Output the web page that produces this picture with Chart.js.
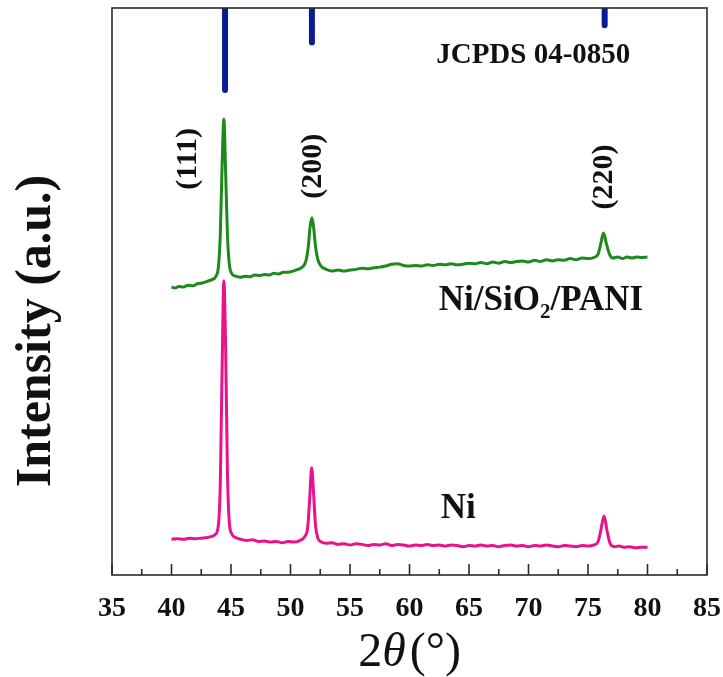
<!DOCTYPE html>
<html>
<head>
<meta charset="utf-8">
<script src="https://cdn.jsdelivr.net/npm/chart.js@4/dist/chart.umd.min.js"></script>
<style>
  html, body { margin: 0; padding: 0; background: #fff; }
  #wrap { width: 723px; height: 677px; position: relative; }
</style>
</head>
<body>
<div id="wrap"><canvas id="xrd"></canvas></div>
<script>
// XRD patterns, 2θ in degrees, intensity in a.u. (curves offset as in the figure)
const niTheta = [40.0, 40.5, 41.0, 41.5, 42.0, 42.5, 43.0, 43.4, 43.7, 43.95, 44.1, 44.25, 44.4, 44.55, 44.7, 44.85, 45.05, 45.4, 45.8,
    46.3, 46.8, 47.3, 47.8, 48.3, 48.8, 49.3, 49.8, 50.3, 50.8, 51.2, 51.45, 51.6, 51.78, 51.95, 52.1, 52.3, 52.6,
    53.0, 53.5, 54.0, 54.5, 55.0, 55.5, 56.0, 56.5, 57.0, 57.5, 58.0, 58.5, 59.0, 59.5, 60.0, 60.5, 61.0, 61.5,
    62.0, 62.5, 63.0, 63.5, 64.0, 64.5, 65.0, 65.5, 66.0, 66.5, 67.0, 67.5, 68.0, 68.5, 69.0, 69.5, 70.0, 70.5,
    71.0, 71.5, 72.0, 72.5, 73.0, 73.5, 74.0, 74.5, 75.0, 75.5, 75.85, 76.05, 76.35, 76.6, 76.85, 77.2, 77.6,
    78.0, 78.5, 79.0, 79.5, 80.0];
const niInt = [6.3, 6.4, 6.3, 6.5, 6.4, 6.5, 6.6, 6.8, 7.2, 9.0, 16, 36, 51.9, 40, 18, 9.5, 7.3, 6.6, 6.3,
    6.1, 6.2, 5.9, 6.0, 5.8, 5.9, 5.7, 5.9, 5.8, 6.1, 6.8, 8.5, 13, 18.9, 14, 8.8, 6.5, 5.8,
    5.6, 5.7, 5.4, 5.5, 5.3, 5.5, 5.4, 5.2, 5.4, 5.3, 5.5, 5.2, 5.4, 5.3, 5.1, 5.3, 5.2, 5.4,
    5.2, 5.3, 5.1, 5.3, 5.2, 5.0, 5.2, 5.1, 5.3, 5.1, 5.2, 5.0, 5.2, 5.3, 5.1, 5.2, 5.0, 5.2,
    5.1, 5.3, 5.1, 5.0, 5.2, 5.1, 5.0, 5.2, 5.1, 5.3, 5.9, 7.6, 10.4, 7.8, 5.6, 5.0, 5.1,
    4.9, 5.0, 4.8, 4.9, 4.9];

const compTheta = [40.0, 40.3, 40.6, 41.0, 41.4, 41.8, 42.2, 42.6, 43.0, 43.4, 43.7, 43.95, 44.1, 44.25, 44.4, 44.55, 44.7, 44.85,
    45.05, 45.4, 45.8, 46.2, 46.6, 47.0, 47.4, 47.8, 48.2, 48.6, 49.0, 49.4, 49.8, 50.2, 50.6, 51.0, 51.3, 51.5,
    51.65, 51.8, 51.95, 52.1, 52.3, 52.6, 53.0, 53.5, 54.0, 54.5, 55.0, 55.5, 56.0, 56.5, 57.0, 57.5, 58.0, 58.5,
    59.0, 59.5, 60.0, 60.5, 61.0, 61.5, 62.0, 62.5, 63.0, 63.5, 64.0, 64.5, 65.0, 65.5, 66.0, 66.5, 67.0, 67.5,
    68.0, 68.5, 69.0, 69.5, 70.0, 70.5, 71.0, 71.5, 72.0, 72.5, 73.0, 73.5, 74.0, 74.5, 75.0, 75.5, 75.85, 76.05,
    76.3, 76.55, 76.8, 77.1, 77.5, 77.9, 78.3, 78.7, 79.1, 79.5, 80.0];
const compInt = [50.8, 50.6, 50.9, 50.8, 51.1, 51.0, 51.4, 51.5, 51.8, 52.1, 52.6, 54.5, 60, 72, 80.4, 71, 60, 55,
    53.2, 52.7, 52.5, 52.7, 52.6, 52.9, 52.8, 53.0, 52.9, 53.2, 53.1, 53.4, 53.4, 53.6, 53.9, 54.3, 55.4, 58,
    61.5, 63.0, 61.2, 58, 55.6, 54.4, 53.9, 53.6, 53.8, 53.6, 53.8, 53.9, 54.1, 54.0, 54.2, 54.3, 54.5, 54.8,
    54.9, 54.6, 54.5, 54.6, 54.5, 54.7, 54.6, 54.8, 54.7, 54.9, 54.7, 54.8, 55.0, 54.9, 55.1, 54.9, 55.2, 55.0,
    55.3, 55.1, 55.3, 55.4, 55.2, 55.5, 55.3, 55.6, 55.4, 55.6, 55.5, 55.8, 55.6, 55.9, 55.8, 56.0, 56.6, 58.2,
    60.3, 58.4, 56.6, 55.9, 56.1, 55.8, 56.1, 55.9, 56.1, 56.0, 56.1];

// JCPDS 04-0850 (Ni) standard lines: position and relative intensity
const refTheta = [44.5, 51.8, 76.4];
const refInt = [100, 42, 21];
const refHkl = ['(111)', '(200)', '(220)'];

const serif = "'Liberation Serif', 'Times New Roman', serif";

function toPoints(xs, ys) {
    return xs.map((x, i) => ({ x: x, y: ys[i] }));
}

// stick pattern: one vertical segment per line, broken by null points
const refPoints = [];
refTheta.forEach((t, i) => {
    refPoints.push({ x: t, y: 0 }, { x: t, y: refInt[i] }, { x: t, y: null });
});

// frame, inward ticks and text annotations
const decorPlugin = {
    id: 'decor',
    afterDatasetsDraw(chart) {
        const ctx = chart.ctx;
        const a = chart.chartArea;
        const xs = chart.scales.x;
        const ys = chart.scales.y;

        ctx.save();
        ctx.strokeStyle = '#2b2b2b';
        ctx.lineWidth = 1.6;
        ctx.strokeRect(a.left, a.top, a.right - a.left, a.bottom - a.top);

        xs.ticks.forEach(t => {
            const px = xs.getPixelForValue(t.value);
            const len = t.value % 5 === 0 ? 11 : 6;
            ctx.beginPath();
            ctx.moveTo(px, a.bottom);
            ctx.lineTo(px, a.bottom - len);
            ctx.stroke();
        });

        ctx.fillStyle = '#111';
        ctx.textAlign = 'center';
        ctx.textBaseline = 'alphabetic';

        // hkl labels, rotated
        const hklPos = [[41.4, 73.4], [51.9, 72.1], [76.4, 70.2]];
        ctx.font = 'bold 30px ' + serif;
        refHkl.forEach((lab, i) => {
            ctx.save();
            ctx.translate(xs.getPixelForValue(hklPos[i][0]), ys.getPixelForValue(hklPos[i][1]));
            ctx.rotate(-Math.PI / 2);
            ctx.textBaseline = 'middle';
            ctx.fillText(lab, 0, 0);
            ctx.restore();
        });

        ctx.font = 'bold 29px ' + serif;
        ctx.fillText('JCPDS 04-0850', xs.getPixelForValue(70.4), ys.getPixelForValue(90.3));

        ctx.font = 'bold 35px ' + serif;
        ctx.fillText('Ni', xs.getPixelForValue(64.1), ys.getPixelForValue(10.05));

        // Ni/SiO2/PANI with subscript
        const cx = xs.getPixelForValue(71.05);
        const by = ys.getPixelForValue(46.7);
        const p1 = 'Ni/SiO', p2 = '/PANI';
        ctx.font = 'bold 35px ' + serif;
        const w1 = ctx.measureText(p1).width;
        const w3 = ctx.measureText(p2).width;
        ctx.font = 'bold 21px ' + serif;
        const w2 = ctx.measureText('2').width;
        let sx = cx - (w1 + w2 + w3) / 2;
        ctx.textAlign = 'left';
        ctx.font = 'bold 35px ' + serif;
        ctx.fillText(p1, sx, by);
        ctx.font = 'bold 21px ' + serif;
        ctx.fillText('2', sx + w1, by + 8);
        ctx.font = 'bold 35px ' + serif;
        ctx.fillText(p2, sx + w1 + w2, by);

        // axis titles
        ctx.save();
        ctx.translate(37, 331);
        ctx.rotate(-Math.PI / 2);
        ctx.textAlign = 'center';
        ctx.textBaseline = 'middle';
        ctx.font = 'bold 50px ' + serif;
        ctx.fillText('Intensity (a.u.)', 0, 0);
        ctx.restore();

        const parts = [['2', '', 0], ['\u03B8', 'italic ', 4], ['(\u00B0)', '', 0]];
        let total = 0;
        parts.forEach(p => {
            ctx.font = p[1] + '48px ' + serif;
            total += ctx.measureText(p[0]).width + p[2];
        });
        let tx = (a.left + a.right) / 2 - total / 2;
        parts.forEach(p => {
            ctx.font = p[1] + '48px ' + serif;
            ctx.fillText(p[0], tx, 666);
            tx += ctx.measureText(p[0]).width + p[2];
        });
        ctx.restore();
    }
};

new Chart(document.getElementById('xrd'), {
    type: 'line',
    data: {
        datasets: [
            {
                label: 'Ni',
                data: toPoints(niTheta, niInt),
                borderColor: '#e8138a',
                borderWidth: 3,
                pointRadius: 0,
                cubicInterpolationMode: 'monotone'
            },
            {
                label: 'Ni/SiO2/PANI',
                data: toPoints(compTheta, compInt),
                borderColor: '#1e8a1e',
                borderWidth: 3,
                pointRadius: 0,
                cubicInterpolationMode: 'monotone'
            },
            {
                label: 'JCPDS 04-0850',
                data: refPoints,
                yAxisID: 'yRef',
                borderColor: '#0c1a94',
                borderWidth: 6,
                borderCapStyle: 'round',
                pointRadius: 0,
                spanGaps: false
            }
        ]
    },
    options: {
        responsive: true,
        maintainAspectRatio: false,
        animation: false,
        layout: { padding: { top: 8, right: 16, left: 0, bottom: 0 } },
        plugins: {
            legend: { display: false },
            tooltip: { enabled: false }
        },
        scales: {
            x: {
                type: 'linear',
                min: 35,
                max: 85,
                grid: { display: false, drawTicks: false },
                border: { display: false },
                ticks: {
                    stepSize: 2.5,
                    padding: 17,
                    color: '#111',
                    font: { family: serif, size: 28, weight: 'bold' },
                    maxRotation: 0,
                    autoSkip: false,
                    callback: v => (v % 5 === 0 ? v : '')
                },
                afterFit: s => {
                    s.height = 102;
                    s.paddingLeft = 0;
                    s.paddingRight = 0;
                }
            },
            y: {
                min: 0,
                max: 100,
                grid: { display: false },
                border: { display: false },
                ticks: { display: false },
                afterFit: s => { s.width = 112; }
            },
            yRef: {
                display: false,
                reverse: true,
                min: 0,
                max: 691
            }
        }
    },
    plugins: [decorPlugin]
});
</script>
</body>
</html>
